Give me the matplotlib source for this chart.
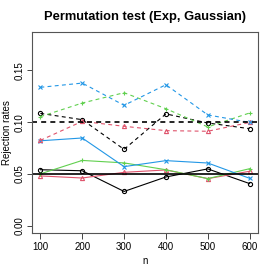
import matplotlib
matplotlib.use("Agg")
import matplotlib.pyplot as plt

plt.rcParams["font.family"] = ["Liberation Sans", "DejaVu Sans"]

n = [100, 200, 300, 400, 500, 600]

# solid series (level 0.05)
black_solid = [0.054, 0.053, 0.033, 0.047, 0.0548, 0.0406]
red_solid = [0.048, 0.046, 0.0515, 0.0538, 0.0454, 0.0525]
green_solid = [0.050, 0.063, 0.0606, 0.054, 0.0454, 0.055]
blue_solid = [0.082, 0.0847, 0.057, 0.0628, 0.0605, 0.0457]

# dashed series (level 0.10)
black_dash = [0.1085, 0.1024, 0.0737, 0.108, 0.0992, 0.0937]
red_dash = [0.0824, 0.1008, 0.096, 0.0918, 0.0912, 0.0998]
green_dash = [0.1053, 0.1185, 0.1285, 0.113, 0.0954, 0.1089]
blue_dash = [0.1337, 0.1378, 0.1163, 0.1362, 0.107, 0.0998]

levels = [0.05, 0.10]
yticks = [0.00, 0.05, 0.10, 0.15]
ytick_labels = ["0.00", "0.05", "0.10", "0.15"]

cols = ["black", "#DF536B", "#61D04F", "#2297E6"]
marks = ["o", "^", "+", "x"]

fig = plt.figure(figsize=(2.74, 2.74), dpi=100)
ax = fig.add_axes([0.1168, 0.1496, 0.8248, 0.7336])

solids = [black_solid, red_solid, green_solid, blue_solid]
dashes = [black_dash, red_dash, green_dash, blue_dash]
for s, c, m in zip(solids, cols, marks):
    ax.plot(n, s, color=c, lw=0.8, marker=m, ms=3, mfc="none", mec=c, mew=0.8)
for s, c, m in zip(dashes, cols, marks):
    ax.plot(n, s, color=c, lw=0.8, ls=(0, (3.5, 3)), marker=m, ms=3, mfc="none", mec=c, mew=0.8)

ax.axhline(levels[0], color="black", lw=1.2)
ax.axhline(levels[1], color="black", lw=1.2, ls=(0, (3, 2.5)))

ax.set_xlim(80, 620)
ax.set_ylim(-0.0072, 0.1872)
ax.set_xticks(n)
ax.set_xticklabels([str(v) for v in n], fontsize=7)
ax.set_yticks(yticks)
ax.set_yticklabels(ytick_labels, fontsize=7, rotation=90, va="center")
ax.tick_params(axis="x", length=4, width=0.7, color="#444444", pad=2.5)
ax.tick_params(axis="y", length=3.5, width=0.7, color="#444444", pad=1.5)
for sp in ax.spines.values():
    sp.set_color("#555555")
    sp.set_linewidth(0.8)

ax.set_xlabel("n", fontsize=7)
ax.xaxis.set_label_coords(0.5, -0.115)
ax.set_ylabel("Rejection rates", fontsize=7)
ax.yaxis.set_label_coords(-0.09, 0.5)
ax.set_title("Permutation test (Exp, Gaussian)", fontsize=9.3, fontweight="bold", pad=9)

fig.savefig("out.png", dpi=100)
